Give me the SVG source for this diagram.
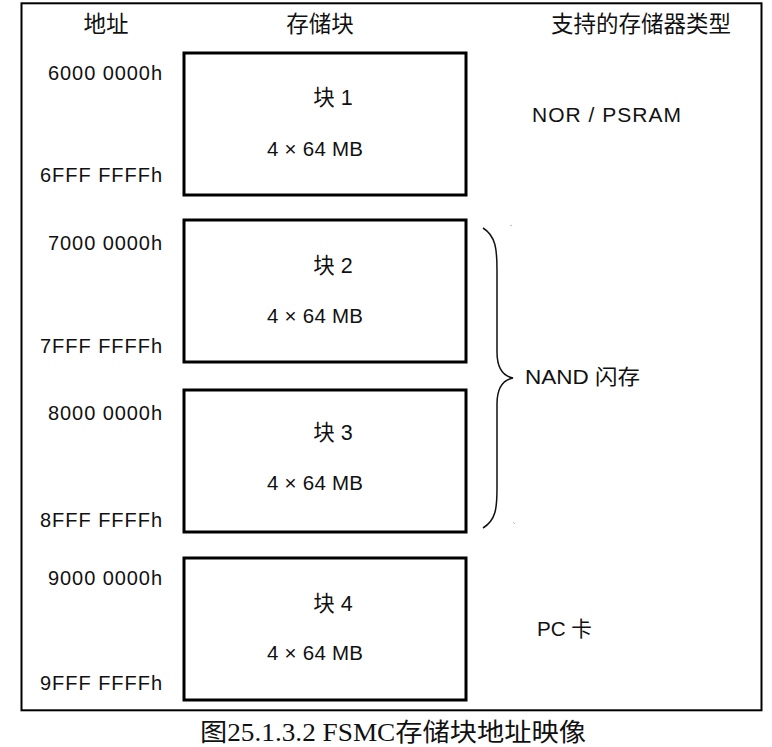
<svg xmlns="http://www.w3.org/2000/svg" width="772" height="747" viewBox="0 0 772 747">
<style>
.t{font-family:"Liberation Sans","Noto Sans CJK SC",sans-serif;fill:#111}
.h{font-size:22.5px;text-anchor:middle}
.a{font-size:20px;text-anchor:end}
.b{font-size:20.5px;text-anchor:middle}
.k{font-size:21.5px;text-anchor:middle}
.r{font-size:21px}
.box{fill:#fff;stroke:#000;stroke-width:3}
.cap{font-family:"Liberation Serif","Noto Sans CJK SC",serif;font-size:25px;fill:#111}
</style>
<rect width="772" height="747" fill="#fff"/>
<rect id="frame" x="21.5" y="3.3" width="740" height="707" fill="none" stroke="#000" stroke-width="2"/>
<g id="headers">
<text class="t h" x="106" y="32">地址</text>
<text class="t h" x="320" y="32">存储块</text>
<text class="t h" x="641" y="32">支持的存储器类型</text>
</g>
<g id="block1">
<rect class="box" x="184" y="53" width="282" height="142"/>
<text class="t k" x="333" y="105">块 1</text>
<text class="t b" x="315" y="156" textLength="96" lengthAdjust="spacing">4 × 64 MB</text>
<text class="t a" x="162" y="80" textLength="114" lengthAdjust="spacing">6000 0000h</text>
<text class="t a" x="162" y="182" textLength="122" lengthAdjust="spacing">6FFF FFFFh</text>
</g>
<g id="block2">
<rect class="box" x="184" y="220" width="282" height="142"/>
<text class="t k" x="333" y="273">块 2</text>
<text class="t b" x="315" y="323" textLength="96" lengthAdjust="spacing">4 × 64 MB</text>
<text class="t a" x="162" y="250" textLength="114" lengthAdjust="spacing">7000 0000h</text>
<text class="t a" x="162" y="353" textLength="122" lengthAdjust="spacing">7FFF FFFFh</text>
</g>
<g id="block3">
<rect class="box" x="184" y="390" width="282" height="142"/>
<text class="t k" x="333" y="440">块 3</text>
<text class="t b" x="315" y="490" textLength="96" lengthAdjust="spacing">4 × 64 MB</text>
<text class="t a" x="162" y="420" textLength="114" lengthAdjust="spacing">8000 0000h</text>
<text class="t a" x="162" y="527" textLength="122" lengthAdjust="spacing">8FFF FFFFh</text>
</g>
<g id="block4">
<rect class="box" x="184" y="558" width="282" height="142"/>
<text class="t k" x="333" y="611">块 4</text>
<text class="t b" x="315" y="660" textLength="96" lengthAdjust="spacing">4 × 64 MB</text>
<text class="t a" x="162" y="585" textLength="114" lengthAdjust="spacing">9000 0000h</text>
<text class="t a" x="162" y="690" textLength="122" lengthAdjust="spacing">9FFF FFFFh</text>
</g>
<g id="types">
<text class="t r" x="532" y="122" textLength="149" lengthAdjust="spacing">NOR / PSRAM</text>
<text class="t r" x="525" y="384" textLength="115" lengthAdjust="spacingAndGlyphs">NAND 闪存</text>
<text class="t r" x="537" y="636" textLength="55" lengthAdjust="spacingAndGlyphs">PC 卡</text>
</g>
<g id="connectors">
<path d="M483,228 C496,236 497,250 497,270 L497,352 C497,368 503,376 513,378 C503,380 497,388 497,404 L497,488 C497,508 496,520 483,528" fill="none" stroke="#111" stroke-width="1.5"/>
<line x1="510" y1="226" x2="512" y2="225" stroke="#bbb" stroke-width="1"/>
<line x1="513" y1="522" x2="515" y2="524" stroke="#bbb" stroke-width="1"/>
</g>
<text id="caption" class="cap" x="200" y="741" textLength="386" lengthAdjust="spacingAndGlyphs">图25.1.3.2 FSMC存储块地址映像</text>
</svg>
